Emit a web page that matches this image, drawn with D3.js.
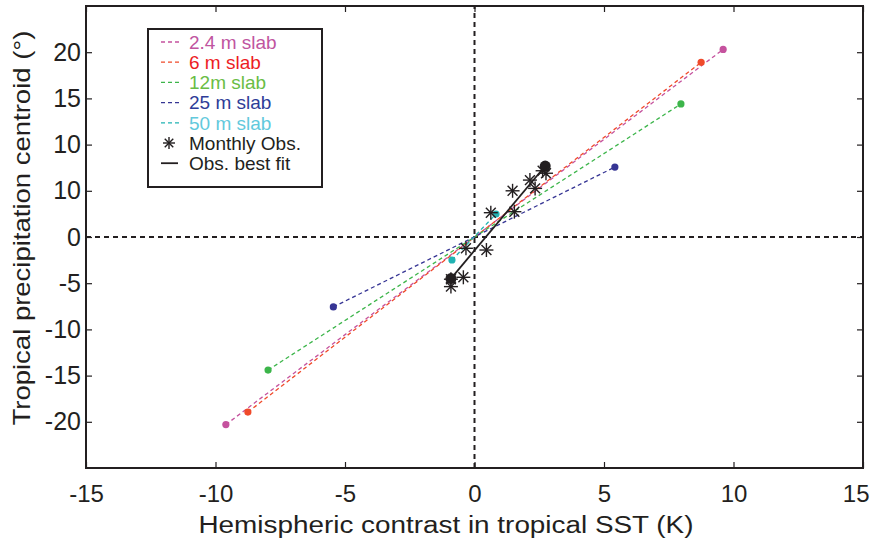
<!DOCTYPE html>
<html lang="en">
<head>
  <meta charset="UTF-8">
  <script src="https://cdn.jsdelivr.net/npm/d3@7"></script>
  <title>Precipitation centroid vs SST contrast</title>
  <style>
    body { margin: 0; background: #fff; }
    text { font-family: "Liberation Sans", Arial, sans-serif; fill: #231f20; }
  </style>
</head>
<body>
  <script>
    // slab depths, colours and the two end points (x, y) of each run
    const slabNames = ['2.4 m slab', '6 m slab', '12m slab', '25 m slab', '50 m slab'];
    const slabColors = ['#c5529e', '#f04a2a', '#3cb54a', '#363594', '#21b3b3'];
    const slabTextColors = ['#c0559f', '#ed1c24', '#6abd45', '#2e3d98', '#62c9dc'];
    const slabX = [[-9.6, 9.6], [-8.75, 8.75], [-7.97, 7.97], [-5.45, 5.42], [-0.87, 0.83]];
    const slabY = [[-20.3, 20.3], [-18.95, 18.9], [-14.4, 14.4], [-7.57, 7.57], [-2.49, 2.49]];

    // monthly observations
    const obsX = [2.63, 2.76, 2.14, 2.34, 1.47, 1.54, 0.63, -0.33, 0.46, -0.43, -0.91, -0.91];
    const obsY = [7.17, 6.9, 6.16, 5.26, 5.0, 2.74, 2.63, -1.22, -1.41, -4.36, -4.57, -5.37];

    // observed best fit end points
    const fitX = [-0.91, 2.73];
    const fitY = [-4.5, 7.68];

    const xTicks = [-15, -10, -5, 0, 5, 10, 15];
    const xTickLabels = ['-15', '-10', '-5', '0', '5', '10', '15'];
    const yTicks = [-20, -15, -10, -5, 0, 5, 10, 15, 20];
    const yTickLabels = ['-20', '-15', '-10', '-5', '0', '10', '10', '15', '20'];

    const W = 873, H = 540;
    const m = { left: 86, right: 10, top: 6, bottom: 72 };

    const svg = d3.select('body').append('svg')
      .attr('width', W)
      .attr('height', H);

    const x = d3.scaleLinear().domain([-15, 15]).range([m.left, W - m.right]);
    const y = d3.scaleLinear().domain([-25, 25]).range([H - m.bottom, m.top]);

    // inward ticks on all four sides, MATLAB style
    const tl = 6;
    svg.append('g').attr('transform', `translate(0,${y(-25)})`)
      .call(d3.axisBottom(x).tickValues(xTicks).tickSizeInner(-tl).tickSizeOuter(0).tickPadding(17)
        .tickFormat((d, i) => xTickLabels[i]))
      .call(g => g.select('.domain').remove())
      .call(g => g.selectAll('text').attr('font-size', 24).attr('font-family', 'Liberation Sans'))
      // last label would run off the page, pull it in like the original
      .call(g => g.selectAll('.tick').filter(d => d === 15).select('text')
        .attr('text-anchor', 'end').attr('x', 869 - x(15)));
    svg.append('g').attr('transform', `translate(0,${y(25)})`)
      .call(d3.axisTop(x).tickValues(xTicks).tickSizeInner(-tl).tickSizeOuter(0).tickFormat(''))
      .call(g => g.select('.domain').remove());
    svg.append('g').attr('transform', `translate(${x(-15)},0)`)
      .call(d3.axisLeft(y).tickValues(yTicks).tickSizeInner(-tl).tickSizeOuter(0).tickPadding(5)
        .tickFormat((d, i) => yTickLabels[i]))
      .call(g => g.select('.domain').remove())
      .call(g => g.selectAll('text').attr('font-size', 25).attr('font-family', 'Liberation Sans'));
    svg.append('g').attr('transform', `translate(${x(15)},0)`)
      .call(d3.axisRight(y).tickValues(yTicks).tickSizeInner(-tl).tickSizeOuter(0).tickFormat(''))
      .call(g => g.select('.domain').remove());
    svg.selectAll('.tick line').attr('stroke', '#231f20').attr('stroke-width', 1.2);

    // zero lines
    svg.append('line')
      .attr('x1', x(-15)).attr('x2', x(15)).attr('y1', y(0)).attr('y2', y(0))
      .attr('stroke', '#231f20').attr('stroke-width', 2).attr('stroke-dasharray', '5,4');
    svg.append('line')
      .attr('x1', x(0)).attr('x2', x(0)).attr('y1', y(-25)).attr('y2', y(25))
      .attr('stroke', '#231f20').attr('stroke-width', 2).attr('stroke-dasharray', '5,4');

    // slab runs: dashed line between the two end points plus dots
    slabNames.forEach((name, i) => {
      svg.append('line')
        .attr('x1', x(slabX[i][0])).attr('y1', y(slabY[i][0]))
        .attr('x2', x(slabX[i][1])).attr('y2', y(slabY[i][1]))
        .attr('stroke', slabColors[i]).attr('stroke-width', 1.3)
        .attr('stroke-dasharray', '4,3');
      svg.selectAll(null).data([0, 1]).enter().append('circle')
        .attr('cx', j => x(slabX[i][j]))
        .attr('cy', j => y(slabY[i][j]))
        .attr('r', 3.6)
        .attr('fill', slabColors[i]);
    });

    // best fit line with big end dots
    svg.append('line')
      .attr('x1', x(fitX[0])).attr('y1', y(fitY[0]))
      .attr('x2', x(fitX[1])).attr('y2', y(fitY[1]))
      .attr('stroke', '#231f20').attr('stroke-width', 1.8);
    svg.selectAll('circle.fit').data([0, 1]).enter().append('circle')
      .attr('class', 'fit')
      .attr('cx', j => x(fitX[j]))
      .attr('cy', j => y(fitY[j]))
      .attr('r', 5.5)
      .attr('fill', '#231f20');

    // asterisk marker
    function star(g, cx, cy, r) {
      const angles = [0, 45, 90, 135];
      angles.forEach(a => {
        const t = a * Math.PI / 180;
        g.append('line')
          .attr('x1', cx - r * Math.cos(t)).attr('y1', cy - r * Math.sin(t))
          .attr('x2', cx + r * Math.cos(t)).attr('y2', cy + r * Math.sin(t))
          .attr('stroke', '#231f20').attr('stroke-width', 1.4);
      });
    }
    const obsG = svg.append('g');
    obsX.forEach((v, i) => star(obsG, x(v), y(obsY[i]), 7));

    // frame
    svg.append('rect')
      .attr('x', x(-15)).attr('y', y(25))
      .attr('width', x(15) - x(-15)).attr('height', y(-25) - y(25))
      .attr('fill', 'none').attr('stroke', '#231f20').attr('stroke-width', 2);

    // legend
    const lg = svg.append('g');
    lg.append('rect')
      .attr('x', 148).attr('y', 29).attr('width', 174).attr('height', 158)
      .attr('fill', '#fff').attr('stroke', '#231f20').attr('stroke-width', 2);
    const rowY = i => 42 + i * 20.2;
    const fs = 19;
    slabNames.forEach((name, i) => {
      lg.append('line')
        .attr('x1', 161).attr('x2', 180).attr('y1', rowY(i)).attr('y2', rowY(i))
        .attr('stroke', slabColors[i]).attr('stroke-width', 1.3).attr('stroke-dasharray', '4,3');
      lg.append('text')
        .attr('x', 189).attr('y', rowY(i)).attr('dy', '0.36em')
        .attr('font-size', fs).style('fill', slabTextColors[i])
        .text(name);
    });
    star(lg, 169, rowY(5), 6);
    lg.append('text').attr('x', 189).attr('y', rowY(5)).attr('dy', '0.36em')
      .attr('font-size', fs).text('Monthly Obs.');
    lg.append('line')
      .attr('x1', 161).attr('x2', 178).attr('y1', rowY(6)).attr('y2', rowY(6))
      .attr('stroke', '#231f20').attr('stroke-width', 1.8);
    lg.append('text').attr('x', 189).attr('y', rowY(6)).attr('dy', '0.36em')
      .attr('font-size', fs).text('Obs. best fit');

    // axis titles
    svg.append('text')
      .attr('x', 446).attr('y', 533)
      .attr('text-anchor', 'middle')
      .attr('font-size', 23)
      .attr('textLength', 495).attr('lengthAdjust', 'spacingAndGlyphs')
      .text('Hemispheric contrast in tropical SST (K)');
    svg.append('text')
      .attr('transform', 'translate(30,228) rotate(-90)')
      .attr('text-anchor', 'middle')
      .attr('font-size', 24)
      .attr('textLength', 395).attr('lengthAdjust', 'spacingAndGlyphs')
      .text('Tropical precipitation centroid (°)');
  </script>
</body>
</html>
